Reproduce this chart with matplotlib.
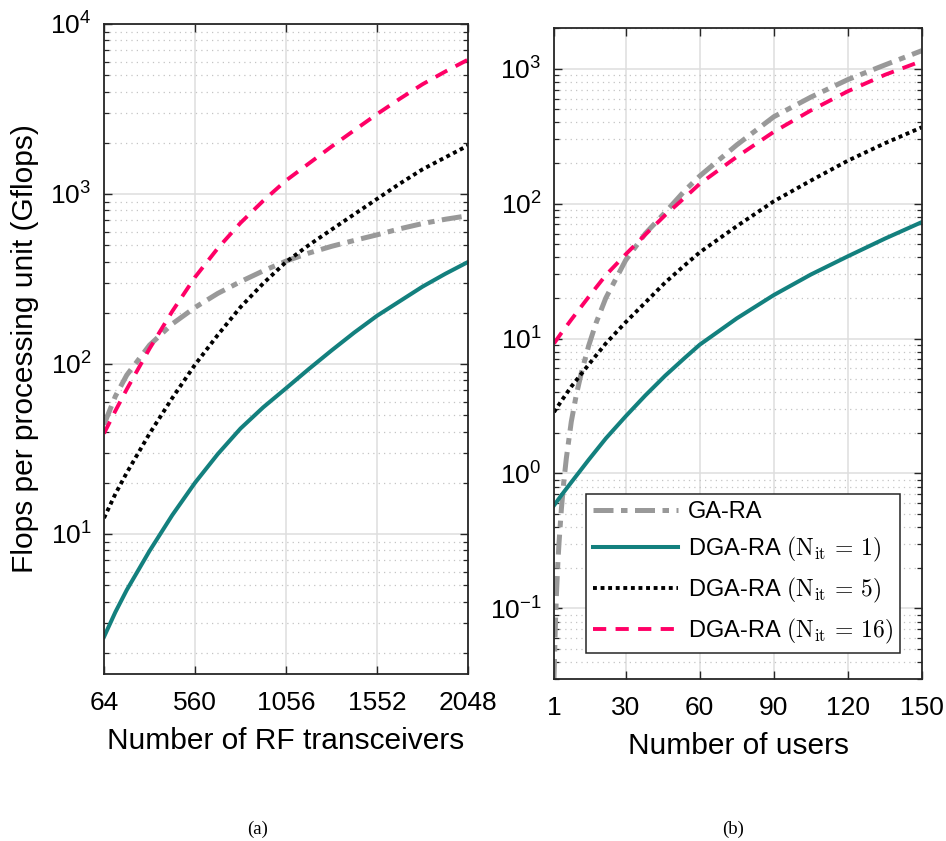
import matplotlib
matplotlib.use('Agg')
import matplotlib.pyplot as plt
from matplotlib.ticker import LogLocator, FixedLocator, NullFormatter, LogFormatterSciNotation

plt.rcParams['font.family'] = ['Liberation Sans', 'DejaVu Sans']
plt.rcParams['mathtext.fontset'] = 'cm'

# ---------------- data: panel (a) ----------------
rf_x = [64, 126, 188, 312, 436, 560, 684, 808, 932, 1056, 1180, 1304, 1428, 1552,
        1676, 1800, 1924, 2048]
rf_ga = [44, 64.6, 86, 129, 172, 215, 260, 305, 353, 403, 449, 492, 533, 575,
         624, 670, 710, 745]
rf_d1 = [2.48, 3.47, 4.68, 7.94, 12.9, 20.0, 29.5, 41.7, 55.6, 71.9, 93.3, 120, 153, 192,
         234, 285, 339, 398]
rf_d5 = [12.4, 17.2, 22.9, 38.9, 63, 99, 148, 216, 298, 398, 500, 617, 760, 935,
         1150, 1396, 1641, 1928]
rf_d16 = [39, 53, 71, 123, 204, 324, 479, 676, 912, 1200, 1510, 1900, 2370, 2950,
          3630, 4420, 5250, 6170]
rf_ticks = [64, 560, 1056, 1552, 2048]

# ---------------- data: panel (b) ----------------
users_x_ga = [1, 1.5, 2, 2.5, 3, 4, 5, 6, 8, 10, 12, 15, 18, 22, 30, 38, 46, 54,
              60, 75, 90, 105, 120, 135, 150]
u_ga = [0.03, 0.07, 0.129, 0.206, 0.30, 0.55, 0.88, 1.30, 2.42, 3.8, 5.5, 8.8, 13.0,
        20.0, 38, 60, 86, 125, 160, 272, 440, 615, 830, 1065, 1360]
users_x = [1, 4, 8, 15, 22, 30, 38, 46, 54, 60, 75, 90, 105, 120, 135, 150]
u_d1 = [0.58, 0.69, 0.86, 1.26, 1.82, 2.65, 3.79, 5.3, 7.2, 9.0, 14.1, 21, 29.8, 40.7, 55, 73]
u_d5 = [2.85, 3.45, 4.4, 6.4, 9.2, 13.2, 18.5, 26, 35, 43.5, 68, 104, 148, 208, 280, 368]
u_d16 = [9.2, 11.0, 13.8, 20.3, 29.5, 42, 59, 82, 111, 140, 222, 340, 490, 680, 900, 1140]
users_ticks = [1, 30, 60, 90, 120, 150]

labels = ['GA-RA',
          r'DGA-RA $(\mathrm{N}_{\mathrm{it}}\,=\,1)$',
          r'DGA-RA $(\mathrm{N}_{\mathrm{it}}\,=\,5)$',
          r'DGA-RA $(\mathrm{N}_{\mathrm{it}}\,=\,16)$']

GRAY = '#999999'
TEAL = '#13807e'
PINK = '#ff0066'
BLACK = '#000000'

style_ga = dict(color=GRAY, lw=3.6, dashes=(4.0, 1.5, 1.3, 1.5), solid_capstyle='butt', dash_capstyle='butt')
style_d1 = dict(color=TEAL, lw=2.9, linestyle='-')
style_d5 = dict(color=BLACK, lw=2.8, dashes=(1.0, 0.95), dash_capstyle='butt')
style_d16 = dict(color=PINK, lw=2.8, dashes=(3.4, 2.4), dash_capstyle='butt')

W, H = 946, 841
fig = plt.figure(figsize=(W / 100, H / 100), dpi=100)

def pos(x0, y0, x1, y1):
    return [x0 / W, 1 - y1 / H, (x1 - x0) / W, (y1 - y0) / H]

axA = fig.add_axes(pos(104, 24, 468, 674))
axB = fig.add_axes(pos(554, 28, 922, 679))

def style_axes(ax, xticks, xlim, ylim, xlabel, ylabel=None):
    ax.set_yscale('log')
    ax.set_xlim(*xlim)
    ax.set_ylim(*ylim)
    ax.xaxis.set_major_locator(FixedLocator(xticks))
    ax.set_xticklabels([str(t) for t in xticks])
    ax.xaxis.set_minor_locator(FixedLocator([]))
    ax.yaxis.set_major_locator(LogLocator(base=10, numticks=20))
    ax.yaxis.set_major_formatter(LogFormatterSciNotation(base=10))
    ax.yaxis.set_minor_locator(LogLocator(base=10, subs=range(2, 10), numticks=100))
    ax.yaxis.set_minor_formatter(NullFormatter())
    ax.grid(True, which='major', color='#dedede', lw=1.1, ls='-')
    ax.grid(True, which='minor', axis='y', color='#c4c4c4', lw=0.9, ls=(0, (1, 3.3)))
    ax.set_axisbelow(True)
    ax.tick_params(which='both', direction='in', top=True, right=True, colors='#262626',
                   labelcolor='black', labelsize=19)
    ax.tick_params(which='major', length=6, width=1.0)
    ax.tick_params(which='minor', length=3.5, width=0.9)
    ax.tick_params(axis='x', pad=12)
    ax.tick_params(axis='y', pad=9)
    for s in ax.spines.values():
        s.set_color('#262626')
        s.set_linewidth(1.3)
    ax.set_xlabel(xlabel, fontsize=21.5, labelpad=9)
    if ylabel:
        ax.set_ylabel(ylabel, fontsize=21.5, labelpad=8)

axA.plot(rf_x, rf_ga, **style_ga)
axA.plot(rf_x, rf_d1, **style_d1)
axA.plot(rf_x, rf_d5, **style_d5)
axA.plot(rf_x, rf_d16, **style_d16)
style_axes(axA, rf_ticks, (64, 2048), (1.5, 1e4), 'Number of RF transceivers',
           'Flops per processing unit (Gflops)')

l1, = axB.plot(users_x_ga, u_ga, **style_ga)
l2, = axB.plot(users_x, u_d1, **style_d1)
l3, = axB.plot(users_x, u_d5, **style_d5)
l4, = axB.plot(users_x, u_d16, **style_d16)
style_axes(axB, users_ticks, (1, 150), (0.03, 2000), 'Number of users')

leg = axB.legend([l1, l2, l3, l4], labels, loc='upper left', bbox_to_anchor=(0.087, 0.284),
                 borderaxespad=0, fontsize=17, handlelength=3.6, handletextpad=0.4,
                 labelspacing=0.5, borderpad=0.3, fancybox=False, framealpha=1)
leg.get_frame().set_edgecolor('#262626')
leg.get_frame().set_linewidth(1.1)

fig.text(258 / W, 1 - 829 / H, '(a)', ha='center', va='center', fontsize=13.5,
         family=['Liberation Serif', 'DejaVu Serif'])
fig.text(733 / W, 1 - 829 / H, '(b)', ha='center', va='center', fontsize=13.5,
         family=['Liberation Serif', 'DejaVu Serif'])

fig.savefig('out.png', dpi=100)
